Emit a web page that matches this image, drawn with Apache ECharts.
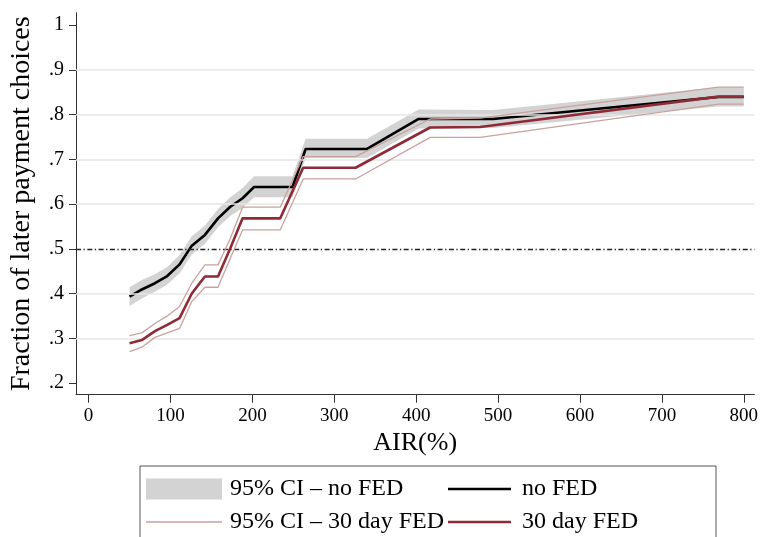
<!DOCTYPE html>
<html><head><meta charset="utf-8">
<script src="https://cdn.jsdelivr.net/npm/echarts@6/dist/echarts.min.js"></script>
<style>html,body{margin:0;padding:0;background:#fff}#c{width:761px;height:537px}</style>
</head><body><div id="c"></div>
<script>
// ---- data ----
var noFedX  = [50, 65, 81, 96, 111, 126, 142, 158, 173, 188, 202, 249, 265, 340, 403, 494, 769, 800];
var noFedY  = [0.393, 0.409, 0.423, 0.439, 0.465, 0.507, 0.531, 0.568, 0.594, 0.613, 0.638, 0.638, 0.723, 0.723, 0.790, 0.790, 0.839, 0.839];
var noFedLo = [0.372, 0.389, 0.404, 0.420, 0.445, 0.487, 0.511, 0.548, 0.573, 0.591, 0.615, 0.615, 0.703, 0.703, 0.769, 0.770, 0.818, 0.818];
var noFedHi = [0.414, 0.430, 0.443, 0.459, 0.486, 0.528, 0.552, 0.589, 0.615, 0.636, 0.662, 0.662, 0.746, 0.746, 0.811, 0.810, 0.861, 0.861];

var fedX  = [50, 65, 81, 96, 111, 126, 142, 158, 173, 188, 234, 262, 326, 417, 478, 769, 800];
var fedY  = [0.289, 0.296, 0.316, 0.330, 0.345, 0.400, 0.438, 0.438, 0.501, 0.568, 0.568, 0.681, 0.681, 0.771, 0.772, 0.840, 0.840];
var fedLo = [0.270, 0.280, 0.302, 0.312, 0.322, 0.382, 0.414, 0.414, 0.479, 0.542, 0.542, 0.656, 0.656, 0.749, 0.749, 0.823, 0.823];
var fedHi = [0.306, 0.312, 0.333, 0.350, 0.371, 0.423, 0.464, 0.464, 0.523, 0.593, 0.593, 0.706, 0.706, 0.790, 0.792, 0.861, 0.861];

var xTicks = [0, 100, 200, 300, 400, 500, 600, 700, 800];
var yTicks = [0.2, 0.3, 0.4, 0.5, 0.6, 0.7, 0.8, 0.9, 1];
var gridValues = [0.3, 0.4, 0.6, 0.7, 0.8, 0.9];
var refValue = 0.5;

var nameBand = '95% CI \u2013 no FED';
var nameCI = '95% CI \u2013 30 day FED';
var nameNoFed = 'no FED';
var nameFed = '30 day FED';

function pairs(xs, ys) { return xs.map(function (x, i) { return [x, ys[i]]; }); }
var bandData = noFedX.map(function (x, i) { return [x, noFedLo[i], noFedHi[i]]; });

var FONT = '"Liberation Serif", "Times New Roman", serif';
var axisColor = '#333';
function legendText(padLeft) {
  return {fontFamily: FONT, fontSize: 24, color: '#000', lineHeight: 24, padding: [0, 0, 0, padLeft]};
}
var row1Top = 477, row2Top = 510;

var chart = echarts.init(document.getElementById('c'), null, {renderer: 'canvas'});
chart.setOption({
  animation: false,
  backgroundColor: '#fff',
  grid: {left: 74, right: 3, top: 12.7, bottom: 142.3, containLabel: false},
  xAxis: {
    type: 'value', min: -15.4, max: 813,
    name: 'AIR(%)', nameLocation: 'middle', nameGap: 30,
    nameTextStyle: {fontFamily: FONT, fontSize: 26, color: '#000'},
    axisLine: {show: true, onZero: false, lineStyle: {color: axisColor, width: 1}},
    axisTick: {show: true, length: 8, customValues: xTicks, lineStyle: {color: axisColor}},
    axisLabel: {customValues: xTicks, fontFamily: FONT, fontSize: 19, color: '#000', margin: 12},
    splitLine: {show: false}
  },
  yAxis: {
    type: 'value', min: 0.1739, max: 1.0275,
    name: 'Fraction of later payment choices', nameLocation: 'middle', nameGap: 40,
    nameTextStyle: {fontFamily: FONT, fontSize: 28, color: '#000'},
    axisLine: {show: true, onZero: false, lineStyle: {color: axisColor, width: 1}},
    axisTick: {show: true, length: 7, customValues: yTicks, lineStyle: {color: axisColor}},
    axisLabel: {customValues: yTicks, fontFamily: FONT, fontSize: 20, color: '#000', margin: 12,
      formatter: function (v) { return v >= 1 ? '1' : String(v).replace(/^0/, ''); }},
    splitLine: {show: false}
  },
  legend: [
    {data: [{name: nameBand, icon: 'rect'}], left: 146, top: row1Top, padding: 0,
     itemWidth: 76, itemHeight: 21, itemGap: 0, selectedMode: false, textStyle: legendText(3)},
    {data: [{name: nameCI, icon: 'rect'}], left: 146, top: row2Top, padding: 0,
     itemWidth: 76, itemHeight: 1.3, itemGap: 0, selectedMode: false, textStyle: legendText(3)},
    {data: [{name: nameNoFed, icon: 'rect'}], left: 448, top: row1Top, padding: 0,
     itemWidth: 63, itemHeight: 2.6, itemGap: 0, selectedMode: false, textStyle: legendText(6)},
    {data: [{name: nameFed, icon: 'rect'}], left: 448, top: row2Top, padding: 0,
     itemWidth: 63, itemHeight: 2.6, itemGap: 0, selectedMode: false, textStyle: legendText(6)}
  ],
  graphic: [{
    type: 'rect', left: 137.5, top: 463.5, silent: true,
    shape: {width: 576, height: 100},
    style: {fill: 'none', stroke: '#555', lineWidth: 1}
  }],
  series: [
    {
      name: 'gridlines', type: 'line', data: [], silent: true,
      markLine: {silent: true, symbol: 'none', label: {show: false},
        lineStyle: {color: '#e6e6e6', width: 1.5, type: 'solid'},
        data: gridValues.map(function (v) { return {yAxis: v}; })}
    },
    {
      name: nameBand, type: 'custom', silent: true, z: 2,
      itemStyle: {color: '#d3d3d3'},
      data: bandData,
      renderItem: function (params, api) {
        if (params.dataIndex !== 0) return null;
        var pts = [];
        for (var i = 0; i < bandData.length; i++) pts.push(api.coord([bandData[i][0], bandData[i][2]]));
        for (var j = bandData.length - 1; j >= 0; j--) pts.push(api.coord([bandData[j][0], bandData[j][1]]));
        return {type: 'polygon', shape: {points: pts}, style: {fill: '#d3d3d3', stroke: null}};
      }
    },
    {
      name: 'ref', type: 'line', data: [], silent: true, z: 3,
      markLine: {silent: true, symbol: 'none', label: {show: false},
        lineStyle: {color: '#222', width: 1.3, type: [5, 2.5, 1.3, 2.5]},
        data: [{yAxis: refValue}]}
    },
    {
      name: nameNoFed, type: 'line', symbol: 'none', color: '#000',
      lineStyle: {color: '#000', width: 2.6}, data: pairs(noFedX, noFedY), z: 4
    },
    {
      name: nameCI, type: 'line', symbol: 'none', color: '#c9a29e',
      lineStyle: {color: '#c9a29e', width: 1.3}, data: pairs(fedX, fedLo), z: 5
    },
    {
      name: nameCI, type: 'line', symbol: 'none', color: '#c9a29e',
      lineStyle: {color: '#c9a29e', width: 1.3}, data: pairs(fedX, fedHi), z: 5
    },
    {
      name: nameFed, type: 'line', symbol: 'none', color: '#8e2b36',
      lineStyle: {color: '#8e2b36', width: 2.6}, data: pairs(fedX, fedY), z: 6
    }
  ]
});
</script>
</body></html>
